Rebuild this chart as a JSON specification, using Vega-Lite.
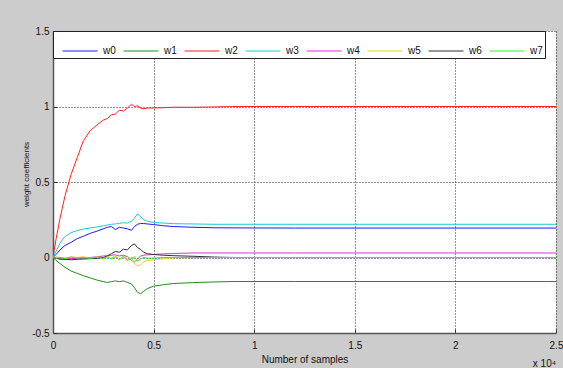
{
  "$schema": "https://vega.github.io/schema/vega-lite/v6.json",
  "width": 503,
  "height": 302,
  "autosize": {"type": "none"},
  "padding": {"left": 53, "top": 31, "right": 7, "bottom": 35},
  "background": "#cccccc",
  "view": {"fill": "white", "stroke": null},
  "config": {"font": "Liberation Sans"},
  "title": {"text": "x 10⁴", "orient": "bottom", "anchor": "end", "frame": "group", "fontSize": 10, "fontWeight": "normal", "color": "#111111", "offset": -5},
  "datasets": {
    "w": [
      {"s":"w0","x":0,"y":0},{"s":"w0","x":150,"y":0.02},{"s":"w0","x":350,"y":0.05},{"s":"w0","x":600,"y":0.08},{"s":"w0","x":900,"y":0.1},{"s":"w0","x":1200,"y":0.125},{"s":"w0","x":1500,"y":0.14},{"s":"w0","x":1850,"y":0.16},{"s":"w0","x":2200,"y":0.175},{"s":"w0","x":2500,"y":0.19},{"s":"w0","x":2700,"y":0.2},{"s":"w0","x":2900,"y":0.205},{"s":"w0","x":3100,"y":0.185},{"s":"w0","x":3300,"y":0.2},{"s":"w0","x":3500,"y":0.195},{"s":"w0","x":3700,"y":0.19},{"s":"w0","x":3900,"y":0.18},{"s":"w0","x":4050,"y":0.205},{"s":"w0","x":4200,"y":0.22},{"s":"w0","x":4350,"y":0.225},{"s":"w0","x":4500,"y":0.225},{"s":"w0","x":4700,"y":0.222},{"s":"w0","x":5000,"y":0.218},{"s":"w0","x":5500,"y":0.21},{"s":"w0","x":6000,"y":0.205},{"s":"w0","x":7000,"y":0.2},{"s":"w0","x":8000,"y":0.197},{"s":"w0","x":9000,"y":0.196},{"s":"w0","x":12000,"y":0.195},{"s":"w0","x":25000,"y":0.195},

      {"s":"w1","x":0,"y":0},{"s":"w1","x":150,"y":-0.02},{"s":"w1","x":350,"y":-0.04},{"s":"w1","x":600,"y":-0.065},{"s":"w1","x":900,"y":-0.09},{"s":"w1","x":1200,"y":-0.105},{"s":"w1","x":1500,"y":-0.12},{"s":"w1","x":1850,"y":-0.135},{"s":"w1","x":2200,"y":-0.15},{"s":"w1","x":2500,"y":-0.16},{"s":"w1","x":2700,"y":-0.165},{"s":"w1","x":2900,"y":-0.16},{"s":"w1","x":3100,"y":-0.155},{"s":"w1","x":3300,"y":-0.16},{"s":"w1","x":3500,"y":-0.155},{"s":"w1","x":3700,"y":-0.165},{"s":"w1","x":3900,"y":-0.175},{"s":"w1","x":4050,"y":-0.2},{"s":"w1","x":4200,"y":-0.23},{"s":"w1","x":4350,"y":-0.24},{"s":"w1","x":4500,"y":-0.225},{"s":"w1","x":4700,"y":-0.205},{"s":"w1","x":5000,"y":-0.19},{"s":"w1","x":5500,"y":-0.18},{"s":"w1","x":6000,"y":-0.172},{"s":"w1","x":7000,"y":-0.166},{"s":"w1","x":8000,"y":-0.162},{"s":"w1","x":9000,"y":-0.159},{"s":"w1","x":12000,"y":-0.159},{"s":"w1","x":25000,"y":-0.159},

      {"s":"w2","x":0,"y":0},{"s":"w2","x":150,"y":0.12},{"s":"w2","x":350,"y":0.26},{"s":"w2","x":600,"y":0.41},{"s":"w2","x":900,"y":0.55},{"s":"w2","x":1200,"y":0.66},{"s":"w2","x":1500,"y":0.77},{"s":"w2","x":1850,"y":0.84},{"s":"w2","x":2200,"y":0.88},{"s":"w2","x":2500,"y":0.91},{"s":"w2","x":2700,"y":0.92},{"s":"w2","x":2900,"y":0.945},{"s":"w2","x":3100,"y":0.95},{"s":"w2","x":3300,"y":0.975},{"s":"w2","x":3500,"y":0.97},{"s":"w2","x":3700,"y":0.99},{"s":"w2","x":3900,"y":1.015},{"s":"w2","x":4050,"y":1.0},{"s":"w2","x":4200,"y":1.005},{"s":"w2","x":4350,"y":0.99},{"s":"w2","x":4500,"y":0.985},{"s":"w2","x":4700,"y":0.99},{"s":"w2","x":5000,"y":0.99},{"s":"w2","x":5500,"y":0.992},{"s":"w2","x":6000,"y":0.995},{"s":"w2","x":7000,"y":0.995},{"s":"w2","x":8000,"y":0.997},{"s":"w2","x":9000,"y":1.0},{"s":"w2","x":12000,"y":1.0},{"s":"w2","x":25000,"y":1.0},

      {"s":"w3","x":0,"y":0},{"s":"w3","x":150,"y":0.04},{"s":"w3","x":350,"y":0.095},{"s":"w3","x":600,"y":0.14},{"s":"w3","x":900,"y":0.165},{"s":"w3","x":1200,"y":0.178},{"s":"w3","x":1500,"y":0.188},{"s":"w3","x":1850,"y":0.196},{"s":"w3","x":2200,"y":0.203},{"s":"w3","x":2500,"y":0.21},{"s":"w3","x":2700,"y":0.215},{"s":"w3","x":2900,"y":0.22},{"s":"w3","x":3100,"y":0.222},{"s":"w3","x":3300,"y":0.226},{"s":"w3","x":3500,"y":0.23},{"s":"w3","x":3700,"y":0.228},{"s":"w3","x":3900,"y":0.24},{"s":"w3","x":4050,"y":0.26},{"s":"w3","x":4200,"y":0.29},{"s":"w3","x":4350,"y":0.27},{"s":"w3","x":4500,"y":0.25},{"s":"w3","x":4700,"y":0.24},{"s":"w3","x":5000,"y":0.232},{"s":"w3","x":5500,"y":0.228},{"s":"w3","x":6000,"y":0.224},{"s":"w3","x":7000,"y":0.222},{"s":"w3","x":8000,"y":0.22},{"s":"w3","x":9000,"y":0.22},{"s":"w3","x":12000,"y":0.22},{"s":"w3","x":25000,"y":0.22},

      {"s":"w4","x":0,"y":0},{"s":"w4","x":150,"y":-0.005},{"s":"w4","x":350,"y":-0.01},{"s":"w4","x":600,"y":-0.012},{"s":"w4","x":900,"y":-0.008},{"s":"w4","x":1200,"y":-0.005},{"s":"w4","x":1500,"y":-0.003},{"s":"w4","x":1850,"y":0.0},{"s":"w4","x":2200,"y":0.005},{"s":"w4","x":2500,"y":0.01},{"s":"w4","x":2700,"y":0.012},{"s":"w4","x":2900,"y":0.015},{"s":"w4","x":3100,"y":0.018},{"s":"w4","x":3300,"y":0.01},{"s":"w4","x":3500,"y":0.015},{"s":"w4","x":3700,"y":0.005},{"s":"w4","x":3900,"y":-0.02},{"s":"w4","x":4050,"y":-0.03},{"s":"w4","x":4200,"y":-0.01},{"s":"w4","x":4350,"y":0.01},{"s":"w4","x":4500,"y":0.015},{"s":"w4","x":4700,"y":0.018},{"s":"w4","x":5000,"y":0.02},{"s":"w4","x":5500,"y":0.024},{"s":"w4","x":6000,"y":0.027},{"s":"w4","x":7000,"y":0.03},{"s":"w4","x":8000,"y":0.03},{"s":"w4","x":9000,"y":0.03},{"s":"w4","x":12000,"y":0.03},{"s":"w4","x":25000,"y":0.03},

      {"s":"w5","x":0,"y":0},{"s":"w5","x":150,"y":0.005},{"s":"w5","x":350,"y":0.0},{"s":"w5","x":600,"y":-0.005},{"s":"w5","x":900,"y":0.005},{"s":"w5","x":1200,"y":0.0},{"s":"w5","x":1500,"y":0.005},{"s":"w5","x":1850,"y":-0.005},{"s":"w5","x":2200,"y":0.005},{"s":"w5","x":2500,"y":-0.01},{"s":"w5","x":2700,"y":0.01},{"s":"w5","x":2900,"y":-0.005},{"s":"w5","x":3100,"y":0.015},{"s":"w5","x":3300,"y":-0.01},{"s":"w5","x":3500,"y":0.005},{"s":"w5","x":3700,"y":-0.015},{"s":"w5","x":3900,"y":0.0},{"s":"w5","x":4050,"y":-0.04},{"s":"w5","x":4200,"y":-0.055},{"s":"w5","x":4350,"y":-0.05},{"s":"w5","x":4500,"y":-0.03},{"s":"w5","x":4700,"y":-0.02},{"s":"w5","x":5000,"y":-0.015},{"s":"w5","x":5500,"y":-0.008},{"s":"w5","x":6000,"y":-0.003},{"s":"w5","x":7000,"y":0},{"s":"w5","x":8000,"y":0},{"s":"w5","x":9000,"y":0},{"s":"w5","x":12000,"y":0},{"s":"w5","x":25000,"y":0},

      {"s":"w6","x":0,"y":0},{"s":"w6","x":150,"y":-0.005},{"s":"w6","x":350,"y":-0.01},{"s":"w6","x":600,"y":-0.012},{"s":"w6","x":900,"y":-0.015},{"s":"w6","x":1200,"y":-0.012},{"s":"w6","x":1500,"y":-0.01},{"s":"w6","x":1850,"y":-0.008},{"s":"w6","x":2200,"y":-0.005},{"s":"w6","x":2500,"y":0.0},{"s":"w6","x":2700,"y":0.01},{"s":"w6","x":2900,"y":0.025},{"s":"w6","x":3100,"y":0.04},{"s":"w6","x":3300,"y":0.035},{"s":"w6","x":3500,"y":0.055},{"s":"w6","x":3700,"y":0.05},{"s":"w6","x":3900,"y":0.08},{"s":"w6","x":4050,"y":0.09},{"s":"w6","x":4200,"y":0.065},{"s":"w6","x":4350,"y":0.055},{"s":"w6","x":4500,"y":0.035},{"s":"w6","x":4700,"y":0.025},{"s":"w6","x":5000,"y":0.02},{"s":"w6","x":5500,"y":0.015},{"s":"w6","x":6000,"y":0.012},{"s":"w6","x":7000,"y":0.008},{"s":"w6","x":8000,"y":0.003},{"s":"w6","x":9000,"y":0.0},{"s":"w6","x":12000,"y":0.0},{"s":"w6","x":25000,"y":0.0},

      {"s":"w7","x":0,"y":0},{"s":"w7","x":150,"y":-0.005},{"s":"w7","x":350,"y":0.0},{"s":"w7","x":600,"y":-0.005},{"s":"w7","x":900,"y":0.002},{"s":"w7","x":1200,"y":-0.003},{"s":"w7","x":1500,"y":0.0},{"s":"w7","x":1850,"y":-0.006},{"s":"w7","x":2200,"y":0.003},{"s":"w7","x":2500,"y":-0.008},{"s":"w7","x":2700,"y":0.005},{"s":"w7","x":2900,"y":-0.01},{"s":"w7","x":3100,"y":0.005},{"s":"w7","x":3300,"y":-0.015},{"s":"w7","x":3500,"y":0.01},{"s":"w7","x":3700,"y":-0.02},{"s":"w7","x":3900,"y":-0.005},{"s":"w7","x":4050,"y":0.005},{"s":"w7","x":4200,"y":-0.025},{"s":"w7","x":4350,"y":-0.01},{"s":"w7","x":4500,"y":0.0},{"s":"w7","x":4700,"y":-0.005},{"s":"w7","x":5000,"y":-0.003},{"s":"w7","x":5500,"y":0},{"s":"w7","x":6000,"y":0},{"s":"w7","x":7000,"y":0},{"s":"w7","x":8000,"y":0},{"s":"w7","x":9000,"y":0},{"s":"w7","x":12000,"y":0},{"s":"w7","x":25000,"y":0}
    ]
  },
  "data": {"name": "w"},
  "mark": {"type": "line", "strokeWidth": 1, "clip": true},
  "encoding": {
    "x": {
      "field": "x", "type": "quantitative",
      "scale": {"domain": [0, 25000], "nice": false, "zero": false},
      "axis": {
        "values": [0, 5000, 10000, 15000, 20000, 25000],
        "labelExpr": "toString(datum.value / 10000)",
        "title": "Number of samples",
        "titleFontSize": 10, "titleFontWeight": "normal", "titleColor": "#111111",
        "titleY": 26, "titleBaseline": "middle",
        "labelFontSize": 10, "labelColor": "#111111", "labelPadding": 11,
        "labelFlush": false, "labelOverlap": false,
        "domainColor": "#555555", "domainWidth": 1.5,
        "ticks": true, "tickSize": -4, "tickColor": "#333333",
        "grid": true, "gridColor": "#000000", "gridDash": [1, 2], "gridOpacity": 0.85, "gridWidth": 1
      }
    },
    "y": {
      "field": "y", "type": "quantitative",
      "scale": {"domain": [-0.5, 1.5], "nice": false, "zero": false},
      "axis": {
        "values": [-0.5, 0, 0.5, 1, 1.5],
        "labelExpr": "toString(datum.value)",
        "title": "weight coefficients",
        "titleFontSize": 8, "titleFontWeight": "normal", "titleColor": "#111111",
        "titleX": -27, "titleY": 143, "titleBaseline": "middle", "titleAngle": -90,
        "labelFontSize": 10, "labelColor": "#111111", "labelPadding": 8,
        "labelFlush": false, "labelOverlap": false,
        "domainColor": "#555555", "domainWidth": 1.5,
        "ticks": true, "tickSize": -4, "tickColor": "#333333",
        "grid": true, "gridColor": "#000000", "gridDash": [1, 2], "gridOpacity": 0.85, "gridWidth": 1
      }
    },
    "color": {
      "field": "s", "type": "nominal",
      "scale": {
        "domain": ["w0", "w1", "w2", "w3", "w4", "w5", "w6", "w7"],
        "range": ["#1a1aff", "#1e8c1e", "#ff2020", "#20c8d0", "#e030e0", "#e6d21e", "#303030", "#30f030"]
      },
      "legend": {
        "orient": "none", "legendX": 0, "legendY": 0,
        "direction": "horizontal", "columns": 8, "title": null,
        "symbolType": "stroke", "symbolSize": 1225, "symbolStrokeWidth": 1,
        "symbolOffset": 7,
        "labelFontSize": 10, "labelColor": "#111111", "labelOffset": 5,
        "columnPadding": -0.5, "padding": 2,
        "fillColor": "white", "strokeColor": "#222222"
      }
    }
  }
}
